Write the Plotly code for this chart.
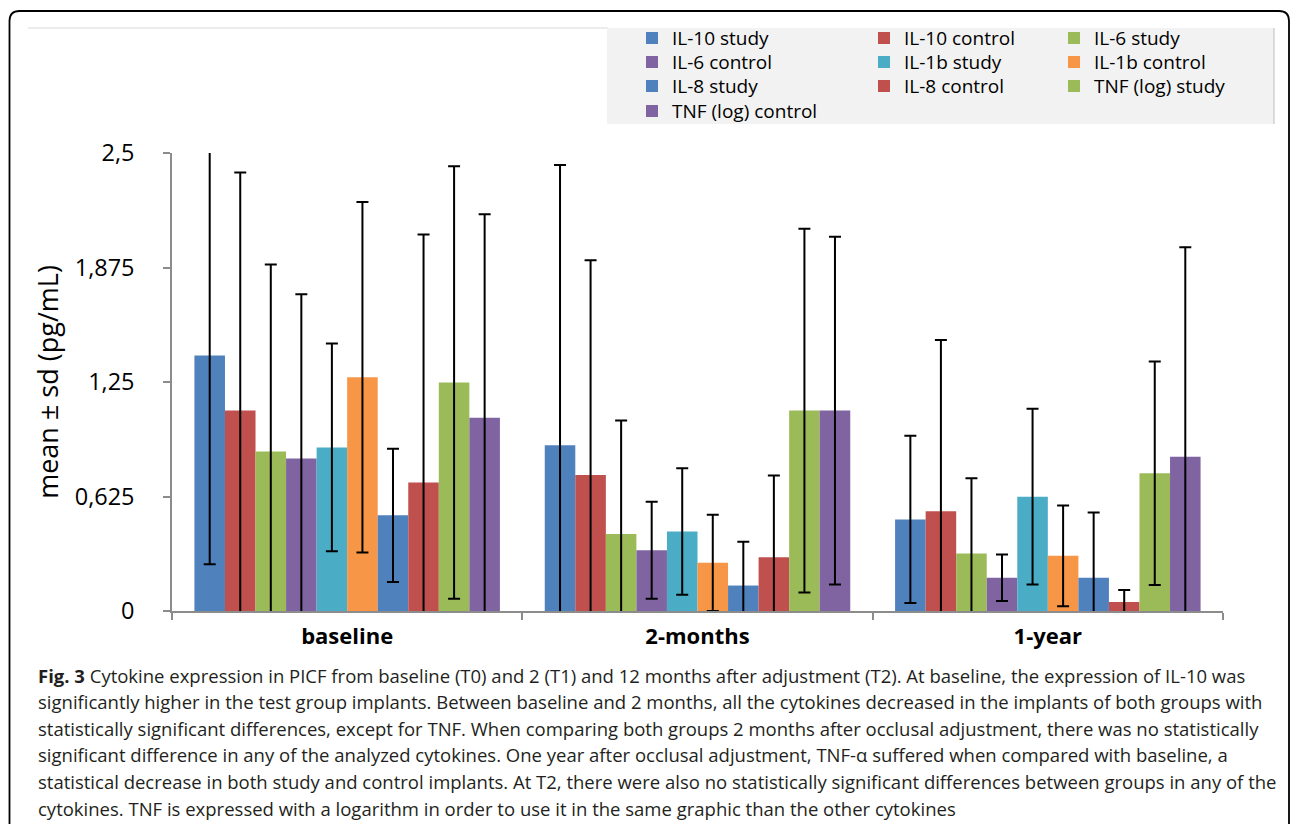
import plotly.graph_objects as go

# ---------------- data ----------------
categories = ["baseline", "2-months", "1-year"]
y_tickvals = [0, 0.625, 1.25, 1.875, 2.5]
y_ticktext = ["0", "0,625", "1,25", "1,875", "2,5"]

series_names = ["IL-10 study", "IL-10 control", "IL-6 study", "IL-6 control",
                "IL-1b study", "IL-1b control", "IL-8 study", "IL-8 control",
                "TNF (log) study", "TNF (log) control"]

il10_study_mean = [1.395, 0.905, 0.500]
il10_study_sd = [1.14, 1.53, 0.456]
il10_control_mean = [1.094, 0.743, 0.544]
il10_control_sd = [1.30, 1.172, 0.935]
il6_study_mean = [0.871, 0.420, 0.314]
il6_study_sd = [1.02, 0.62, 0.41]
il6_control_mean = [0.832, 0.332, 0.181]
il6_control_sd = [0.897, 0.265, 0.127]
il1b_study_mean = [0.893, 0.434, 0.624]
il1b_study_sd = [0.567, 0.345, 0.48]
il1b_control_mean = [1.276, 0.263, 0.301]
il1b_control_sd = [0.957, 0.263, 0.275]
il8_study_mean = [0.522, 0.139, 0.181]
il8_study_sd = [0.364, 0.239, 0.357]
il8_control_mean = [0.701, 0.294, 0.049]
il8_control_sd = [1.354, 0.445, 0.066]
tnf_study_mean = [1.247, 1.094, 0.752]
tnf_study_sd = [1.18, 0.993, 0.61]
tnf_control_mean = [1.055, 1.094, 0.842]
tnf_control_sd = [1.11, 0.949, 1.144]

means = [il10_study_mean, il10_control_mean, il6_study_mean, il6_control_mean,
         il1b_study_mean, il1b_control_mean, il8_study_mean, il8_control_mean,
         tnf_study_mean, tnf_control_mean]
sds = [il10_study_sd, il10_control_sd, il6_study_sd, il6_control_sd,
       il1b_study_sd, il1b_control_sd, il8_study_sd, il8_control_sd,
       tnf_study_sd, tnf_control_sd]

caption_lines = [
    "<b>Fig. 3</b> Cytokine expression in PICF from baseline (T0) and 2 (T1) and 12 months after adjustment (T2). At baseline, the expression of IL-10 was",
    "significantly higher in the test group implants. Between baseline and 2 months, all the cytokines decreased in the implants of both groups with",
    "statistically significant differences, except for TNF. When comparing both groups 2 months after occlusal adjustment, there was no statistically",
    "significant difference in any of the analyzed cytokines. One year after occlusal adjustment, TNF-α suffered when compared with baseline, a",
    "statistical decrease in both study and control implants. At T2, there were also no statistically significant differences between groups in any of the",
    "cytokines. TNF is expressed with a logarithm in order to use it in the same graphic than the other cytokines",
]

# ---------------- style ----------------
colors = ["#4F81BD", "#C0504D", "#9BBB59", "#8064A2", "#4BACC6",
          "#F79646", "#4F81BD", "#C0504D", "#9BBB59", "#8064A2"]
# legend laid out as 4 rows x 3 columns (row-major, like the original)
legend_row = ["legend", "legend", "legend", "legend2", "legend2",
              "legend2", "legend3", "legend3", "legend3", "legend4"]
col_width = [187, 145, None, 187, 145, None, 187, 145, None, 187]

W, H = 1290, 824
L, R, T, B = 172, 1223, 153, 611


def px(x):
    return (x - L) / (R - L)


def py(y):
    return (B - y) / (B - T)


FONT = "Open Sans"
fig = go.Figure()
for name, m, s, c, lg, cw in zip(series_names, means, sds, colors, legend_row, col_width):
    fig.add_trace(go.Bar(
        x=categories, y=m, name=name, legend=lg, legendwidth=cw,
        marker=dict(color=c, line=dict(width=0)),
        error_y=dict(type="data", array=s, visible=True, color="black",
                     thickness=2, width=6),
    ))

axis_gray = "#8C8C8C"
fig.update_layout(
    width=W, height=H,
    margin=dict(l=L, r=W - R, t=T, b=H - B),
    paper_bgcolor="white", plot_bgcolor="white",
    barmode="group", bargap=0.128, bargroupgap=0,
    font=dict(family=FONT, color="black"),
    xaxis=dict(
        type="category", range=[-0.5, 2.5], tickson="boundaries",
        ticks="outside", ticklen=7, tickcolor=axis_gray, tickwidth=1.5,
        showline=True, linecolor=axis_gray, linewidth=1.5,
        showgrid=False, zeroline=False,
        tickfont=dict(family=FONT, size=22, color="black", weight="bold"),
        ticklabelstandoff=5,
    ),
    yaxis=dict(
        range=[0, 2.5], tickvals=y_tickvals, ticktext=y_ticktext,
        ticks="outside", ticklen=7, tickcolor=axis_gray, tickwidth=1.5,
        showline=True, linecolor=axis_gray, linewidth=1.5,
        showgrid=False, zeroline=False,
        tickfont=dict(family=FONT, size=23.5, color="black"),
        ticklabelstandoff=24,
        title=dict(text="mean ± sd (pg/mL)", font=dict(family=FONT, size=27),
                   standoff=8),
    ),
    showlegend=True,
)

LEG_FONT = 19
item_h = LEG_FONT * 1.3 + 3
row_centers = [38, 62, 86, 111]
for key, yc in zip(["legend", "legend2", "legend3", "legend4"], row_centers):
    fig.update_layout({key: dict(
        bgcolor="rgba(0,0,0,0)", borderwidth=0, orientation="h",
        font=dict(family=FONT, size=LEG_FONT, color="black"),
        xanchor="left", yanchor="top", x=px(632),
        y=py(yc - item_h / 2 - 5),
    )})

# frame, top rule and legend box
r = 10
x0, y0, x1, y1 = 9.5, 11, 1289, 840
frame_path = (
    f"M {px(x0)},{py(y0 + r)} Q {px(x0)},{py(y0)} {px(x0 + r)},{py(y0)} "
    f"L {px(x1 - r)},{py(y0)} Q {px(x1)},{py(y0)} {px(x1)},{py(y0 + r)} "
    f"L {px(x1)},{py(y1)} L {px(x0)},{py(y1)} Z"
)
fig.add_shape(type="path", xref="paper", yref="paper", path=frame_path,
              line=dict(color="black", width=1.8), fillcolor="rgba(0,0,0,0)",
              layer="below")
fig.add_shape(type="line", xref="paper", yref="paper",
              x0=px(28), x1=px(608), y0=py(28), y1=py(28),
              line=dict(color="#E6E6E6", width=1.5), layer="below")
fig.add_shape(type="rect", xref="paper", yref="paper",
              x0=px(607), x1=px(1274), y0=py(28), y1=py(124),
              fillcolor="#F2F2F2", line=dict(width=0), layer="below")
fig.add_shape(type="line", xref="paper", yref="paper",
              x0=px(1274), x1=px(1274), y0=py(28), y1=py(124),
              line=dict(color="#BFBFBF", width=1), layer="below")

for i, line in enumerate(caption_lines):
    fig.add_annotation(
        xref="paper", yref="paper", x=px(36), y=py(675 + 26.6 * i),
        xanchor="left", yanchor="middle", align="left", showarrow=False,
        text=line,
        font=dict(family="Open Sans", size=18.5, color="#231F20"),
    )

fig.write_html("out.html", config={"displayModeBar": False},
               post_script="document.body.style.margin='0';")
